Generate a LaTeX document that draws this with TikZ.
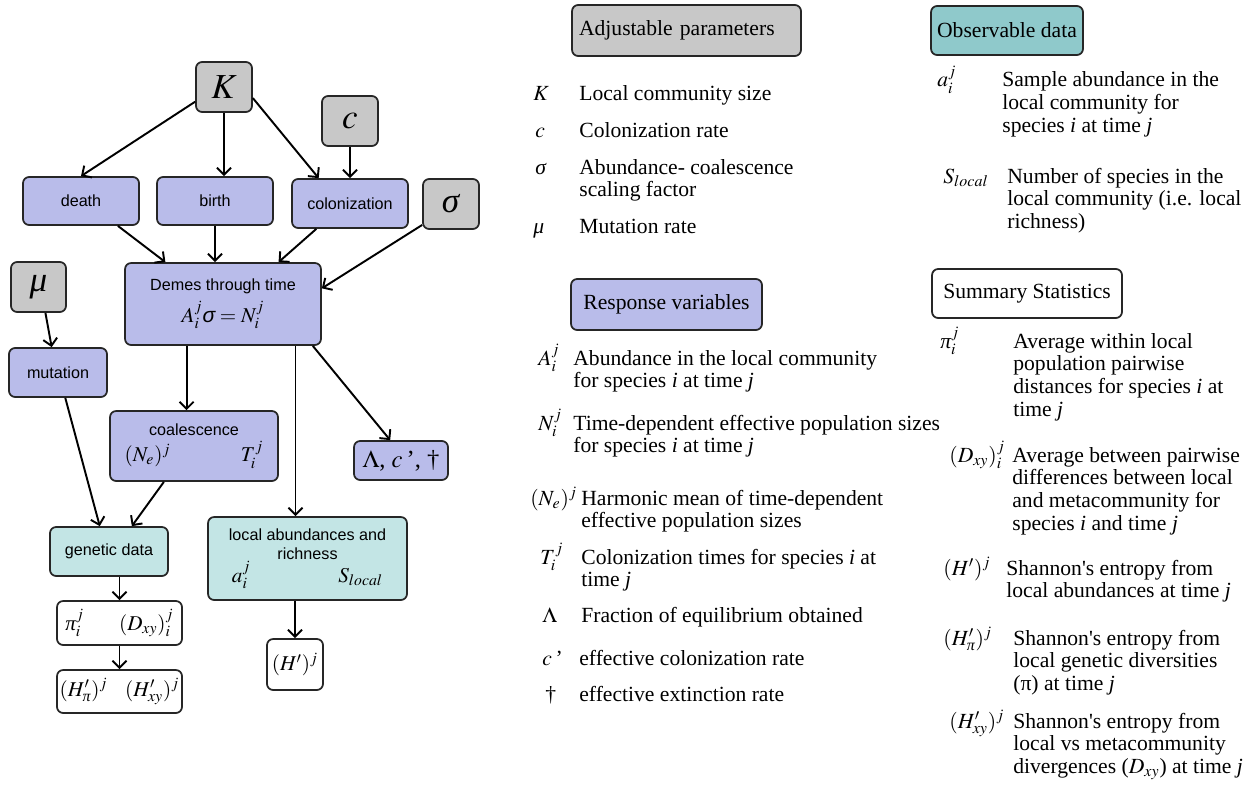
\documentclass[tikz,border=0pt]{standalone}
\usepackage{amsmath}
\usepackage{mathptmx}
\usepackage{fontspec}
\setmainfont{Liberation Serif}
\setsansfont{Liberation Sans}
\usetikzlibrary{arrows.meta}

\definecolor{paramgray}{HTML}{C8C8C8}
\definecolor{resplav}{HTML}{B9BCEA}
\definecolor{obsteal}{HTML}{C3E5E5}
\definecolor{obsdark}{HTML}{8FC9CB}

\newcommand{\eqsize}{\fontsize{12}{14}\selectfont}
\newcommand{\desclines}[1]{\begin{tabular}[t]{@{}l@{}}#1\end{tabular}}

\tikzset{
  box/.style={draw=black!85, line width=1pt, rounded corners=3.5pt, inner sep=0pt, align=center},
  param/.style={box, fill=paramgray, minimum width=1.12cm, minimum height=1cm, font=\fontsize{20}{24}\selectfont},
  resp/.style={box, fill=resplav, font=\sffamily\fontsize{9.2}{11}\selectfont},
  obs/.style={box, fill=obsteal, font=\sffamily\fontsize{9.2}{11}\selectfont},
  stat/.style={box, fill=white, font=\fontsize{12}{14}\selectfont},
  legend/.style={box, font=\fontsize{12.3}{14}\selectfont},
  sym/.style={anchor=base west, inner sep=0pt, font=\fontsize{12.3}{13}\selectfont},
  desc/.style={anchor=base west, inner sep=0pt, font=\fontsize{12.3}{13}\selectfont},
  link/.style={->, line width=1.1pt}
}

\begin{document}
\begin{tikzpicture}[x=0.02cm, y=-0.02cm, >={Straight Barb[length=4pt,width=8pt]}]

    \useasboundingbox (0,0) rectangle (1253,784);

    % model graph
    \node[param] (K) at (224,87) {$K$};
    \node[param] (c) at (350,121) {$c$};
    \node[param] (sig) at (451,204) {\textit{σ}};
    \node[param, minimum width=1.10cm] (mu) at (38.5,287) {\textit{μ}};

    \node[resp, minimum width=2.32cm, minimum height=0.96cm] (death) at (81,201) {death};
    \node[resp, minimum width=2.32cm, minimum height=0.96cm] (birth) at (215,201) {birth};
    \node[resp, minimum width=2.32cm, minimum height=0.98cm] (col) at (350,203.5) {colonization};
    \node[resp, minimum width=3.92cm, minimum height=1.64cm] (demes) at (223,304) {Demes through time\\[3pt]{\eqsize $A_i^j\textit{σ} = N_i^j$}};
    \node[resp, minimum width=1.96cm, minimum height=0.98cm] (mut) at (58,372.5) {mutation};
    \node[resp, minimum width=3.36cm, minimum height=1.40cm] (coal) at (194,446) {coalescence\\[2pt]{\eqsize $(N_e)^j$\hspace{40pt}$T_i^j$}};
    \node[resp, minimum width=1.88cm, minimum height=0.78cm, font=\fontsize{14}{16}\selectfont] (lam) at (401,460.5) {$\Lambda$, $c$\,’, \textdagger};

    \node[obs, minimum width=2.36cm, minimum height=0.98cm] (gen) at (109,551.5) {genetic data};
    \node[obs, minimum width=3.98cm, minimum height=1.66cm] (loc) at (307.5,558.5) {local abundances and\\richness\\{\eqsize $a_i^j$\hspace{50pt}$S_{local}$}};

    \node[stat, minimum width=2.5cm, minimum height=0.88cm] (pid) at (119.5,623) {$\textit{π}_i^j$\hspace{20pt}$(D_{xy})_i^j$};
    \node[stat, minimum width=2.5cm, minimum height=0.86cm] (hh) at (119.5,691.5) {$(H'_{\textit{π}})^j$\hspace{10pt}$(H'_{xy})^j$};
    \node[stat, minimum width=1.12cm, minimum height=1.02cm] (hp) at (295,664.5) {$(H')^j$};

    \draw[link] (K.207) -- (death.north);
    \draw[link] (K.south) -- (K.south |- birth.north);
    \draw[link] (K.339) -- (col.141);
    \draw[link] (c) -- (col);
    \draw[link] (death.326) -- (demes.144);
    \draw[link] (birth.south) -- (birth.south |- demes.north);
    \draw[link] (col.217) -- (demes.37);
    \draw[link] (sig.216) -- (demes.9);
    \draw[link] (mu.285) -- (mut.104);
    \draw[link] (demes.229) -- (demes.229 |- coal.north);
    \draw[link] (demes.330) -- (demes.330 |- loc.north);
    \draw[link] (demes.335) -- (lam.118);
    \draw[link] (mut.286) -- (gen.110);
    \draw[link] (coal.230) -- (gen.48);
    \draw[link] (pid.north |- gen.south) -- (pid.north);
    \draw[link] (pid) -- (hh);
    \draw[link] (hp.north |- loc.south) -- (hp.north);

    % legend: adjustable parameters
    \node[legend, fill=paramgray, minimum width=4.58cm, minimum height=1.02cm, text width=4.3cm, align=left] (adj) at (686.5,30.5) {Adjustable parameters};
    \node[sym] (sK) at (533,100) {$K$};
    \node[desc] (dK) at (579,100) {\desclines{Local community size}};
    \node[sym] (sc) at (535,137) {$c$};
    \node[desc] (dc) at (579,137) {\desclines{Colonization rate}};
    \node[sym] (ssig) at (535,174) {\textit{σ}};
    \node[desc] (dsig) at (579,174) {\desclines{Abundance- coalescence\\scaling factor}};
    \node[sym] (smu) at (533,233) {\textit{μ}};
    \node[desc] (dmu) at (579,233) {\desclines{Mutation rate}};

    % legend: response variables
    \node[legend, fill=resplav, minimum width=3.82cm, minimum height=1.02cm] (rv) at (666.5,304.5) {Response variables};
    \node[sym] (sA) at (538,365) {$A_i^j$};
    \node[desc] (dA) at (573,365) {\desclines{Abundance in the local community\\for species \textit{i} at time \textit{j}}};
    \node[sym] (sN) at (538,430) {$N_i^j$};
    \node[desc] (dN) at (573,430) {\desclines{Time-dependent effective population sizes\\for species \textit{i} at time \textit{j}}};
    \node[sym] (sNe) at (530,505) {$(N_e)^j$};
    \node[desc] (dNe) at (581,505) {\desclines{Harmonic mean of time-dependent\\effective population sizes}};
    \node[sym] (sT) at (540,564) {$T_i^j$};
    \node[desc] (dT) at (581,564) {\desclines{Colonization times for species \textit{i} at\\time \textit{j}}};
    \node[sym] (sLam) at (542,622) {$\Lambda$};
    \node[desc] (dLam) at (581,622) {\desclines{Fraction of equilibrium obtained}};
    \node[sym] (scp) at (542,665) {$c$\,’};
    \node[desc] (dcp) at (579,665) {\desclines{effective colonization rate}};
    \node[sym] (sdag) at (545,701) {\textdagger};
    \node[desc] (ddag) at (579,701) {\desclines{effective extinction rate}};

    % legend: observable data
    \node[legend, fill=obsdark, minimum width=3.04cm, minimum height=0.98cm] (od) at (1007,30.5) {Observable data};
    \node[sym] (sa) at (937,87) {$a_i^j$};
    \node[desc] (da) at (1002,87) {\desclines{Sample abundance in the\\local community for\\species \textit{i} at time \textit{j}}};
    \node[sym] (sS) at (943,183) {$S_{local}$};
    \node[desc] (dS) at (1007,183) {\desclines{Number of species in the\\local community (i.e. local\\richness)}};

    % legend: summary statistics
    \node[legend, fill=white, minimum width=3.8cm, minimum height=0.98cm] (ss) at (1027,293.5) {Summary Statistics};
    \node[sym] (spi) at (940,348) {$\textit{π}_i^j$};
    \node[desc] (dpi) at (1013,348) {\desclines{Average within local\\population pairwise\\distances for species \textit{i} at\\time \textit{j}}};
    \node[sym] (sD) at (949,462) {$(D_{xy})_i^j$};
    \node[desc] (dD) at (1012,462) {\desclines{Average between pairwise\\differences between local\\and metacommunity for\\species \textit{i} and time \textit{j}}};
    \node[sym] (sH) at (943,575) {$(H')^j$};
    \node[desc] (dH) at (1006,575) {\desclines{Shannon\textquotesingle s entropy from\\local abundances at time \textit{j}}};
    \node[sym] (sHpi) at (943,645) {$(H'_{\textit{π}})^j$};
    \node[desc] (dHpi) at (1013,645) {\desclines{Shannon\textquotesingle s entropy from\\local genetic diversities\\(π) at time \textit{j}}};
    \node[sym] (sHxy) at (949,728) {$(H'_{xy})^j$};
    \node[desc] (dHxy) at (1013,728) {\desclines{Shannon\textquotesingle s entropy from\\local vs metacommunity\\divergences ($D_{xy}$) at time \textit{j}}};

\end{tikzpicture}
\end{document}
